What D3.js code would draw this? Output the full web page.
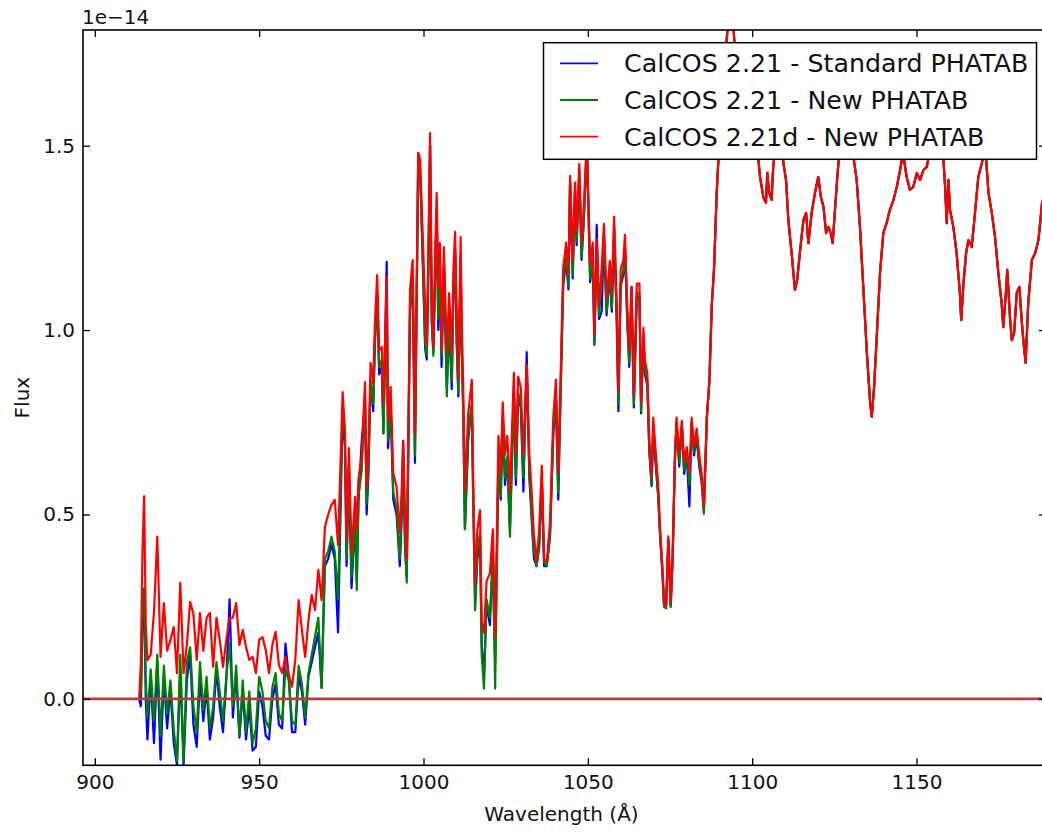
<!DOCTYPE html>
<html><head><meta charset="utf-8">
<script src="https://cdn.jsdelivr.net/npm/d3@7"></script>
<style>
body{margin:0;background:#fff}
svg{display:block}
text{font-family:"DejaVu Sans",sans-serif;fill:#111}
</style>
</head><body>
<svg id="chart" width="1042" height="832"></svg>
<script>
// ---------------- DATA (flux in units of 1e-14) ----------------
// wavelengths where the three reductions differ
const waveHead = [
  913.5,914,914.5,915,915.5,916,917,918,919,920,
  921,922,923,924,925,926,927,928,929,930,
  931,932,933,934,935,936,937,938,939,940,
  941,942,943,944,945,946,947,948,949,950,
  951,952,953,954,955,956,957,958,959,960,
  961,962,963,964,965,966,967,968,969,970,
  971,972,973,974,
  975.4,976.1,976.6,977.3,978.1,979.2,979.7,980.2,981.2,982.2,
  982.7,983.2,983.9,984.7,985.2,985.9,986.5,987.3,987.8,988.8,
  989.2,990.0,990.8,991.8,992.8,993.4,993.8,994.4,994.9,995.4,
  995.9,996.7,997.4,997.9,998.4,999.0,999.6,1000.5,1001.0,1001.5,
  1002.0,1002.5,1003.0,1003.5,1004.0,1004.5,1005.0,1005.5,1006.2,1007.1,
  1007.8,1008.6,1009.1,1009.6,1010.1,1010.6,
  1011.3,1011.6,1012.1,1012.6,1013.6,1014.7,1015.1,1015.7,1016.4,1017.2,
  1017.7,1018.4,1019.2,1020.2,1021.1,1021.8,1022.8,1023.5,1024.1,1024.8,
  1025.5,1026.3,1027.5,1028.1,1028.8,1029.6,1030.4,1031.4,1032.2,1032.9,
  1033.6,1034.4,1035.2,1036.0,1036.7,1037.5,1038.5,1039.5,1040.3,1041.0,
  1041.7,1042.5,1043.4,1044.1,1044.6,1045.4,1046.1,1046.6,1047.4,1048.1,
  1048.8,1049.7,1050.7,1051.5,1052.0,1052.7,1053.4,1054.2,1054.9,1055.7,
  1056.7,1057.3,1058.0,1058.8,1059.3,1060.0,1060.8,1061.3,1062.0,1062.6,
  1063.3,1064.0,1064.9,1065.7,1066.2,1066.9,1067.4,1068.1,1068.7,1069.4,
  1069.9,1070.7,1071.4,1072.0,1072.7,1073.2,1073.8,1074.5,1075.2,1075.8,
  1076.5,1077.0,1077.8,1078.6,1079.3,1080.1,1080.9,1081.6,1082.3,1083.1,
  1083.9,1084.6,1085.3,1086.2
];
// CalCOS 2.21 - Standard PHATAB
const fluxStdHead = [
  0,-.02,.20,.28,0,-.11,.06,-.12,.10,-.165,
  .06,-.08,.03,-.12,-.18,.08,-.18,.05,.12,-.07,
  -.13,.06,-.06,.03,-.11,-.05,.08,-.02,-.09,.05,
  .27,-.05,.07,-.105,.02,-.11,-.02,-.14,-.13,.02,
  -.02,-.10,-.11,0,.04,-.07,-.08,.15,.06,-.09,
  -.09,.06,.02,-.07,.06,.10,.14,.18,.03,.36,
  .38,.42,.38,.18,
  .78,.68,.36,.62,.30,.48,.32,.53,.70,.80,
  .50,.60,.86,.78,.96,1.10,.88,.90,.72,1.185,
  .68,.79,.54,.50,.36,.50,.70,.40,.33,.68,
  1.05,1.14,.64,1.06,1.48,1.42,1.24,.95,.92,1.17,
  1.50,1.02,.94,1.13,1.32,1.00,1.18,.90,1.17,.84,
  1.02,.84,1.10,1.20,.96,.82,
  1.19,.96,.77,.46,.70,.80,.56,.26,.38,.44,
  .15,.06,.26,.20,.38,.10,.64,.54,.75,.58,
  .65,.46,.83,.58,.82,.79,.562,.94,.60,.49,
  .38,.36,.41,.59,.36,.36,.44,.72,.81,.54,
  .82,1.12,1.19,1.11,1.40,1.14,1.38,1.23,1.43,1.19,
  1.30,1.50,1.13,1.19,.96,1.285,1.03,1.05,1.25,1.04,
  1.15,1.05,1.27,1.02,.78,1.12,1.15,1.22,1.02,.90,
  1.117,.79,1.09,1.09,.774,.97,.88,.85,.67,.577,
  .73,.63,.55,.44,.34,.25,.25,.43,.25,.38,
  .65,.75,.63,.74,.61,.66,.522,.75,.66,.71,
  .63,.59,.51,.76
];
// CalCOS 2.21 - New PHATAB
const fluxNewHead = [
  0,.02,.25,.30,.05,-.05,.08,-.06,.12,-.10,
  .09,-.04,.05,-.08,-.17,.12,-.17,.10,.14,-.02,
  -.09,.10,-.03,.06,-.08,-.02,.10,.02,-.06,.06,
  .15,-.02,.09,-.10,.05,-.09,.02,-.12,-.08,.06,
  .02,-.06,-.08,.03,.07,-.04,-.06,.08,.05,-.06,
  -.07,.09,.04,-.05,.07,.12,.17,.22,.03,.38,
  .40,.44,.40,.27,
  .80,.70,.38,.64,.33,.50,.295,.55,.62,.82,
  .53,.62,.86,.80,.97,1.10,.90,.92,.72,1.10,
  .70,.80,.56,.52,.38,.52,.66,.42,.315,.70,
  1.06,1.15,.66,1.07,1.45,1.42,1.25,.97,.93,1.18,
  1.50,1.04,.93,1.14,1.33,1.03,1.19,.93,1.18,.82,
  1.04,.86,1.12,1.22,.98,.83,
  1.20,.97,.78,.46,.72,.80,.55,.24,.40,.45,
  .12,.028,.27,.22,.40,.028,.66,.55,.76,.60,
  .66,.44,.84,.60,.83,.80,.60,.90,.62,.50,
  .40,.36,.42,.60,.37,.36,.45,.73,.82,.56,
  .83,1.13,1.20,1.12,1.40,1.15,1.38,1.24,1.43,1.20,
  1.31,1.50,1.14,1.20,.965,1.22,1.04,1.13,1.26,1.05,
  1.16,1.06,1.28,1.03,.80,1.13,1.16,1.23,1.03,.91,
  1.10,.80,1.10,1.10,.78,.98,.89,.86,.68,.58,
  .74,.64,.552,.44,.34,.25,.245,.43,.25,.38,
  .65,.75,.64,.74,.62,.67,.58,.75,.67,.72,
  .64,.60,.502,.76
];
// CalCOS 2.21d - New PHATAB
const fluxNewDHead = [
  0,.10,.40,.55,.20,.105,.12,.235,.44,.114,
  .26,.13,.16,.195,.07,.315,.07,.146,.263,.23,
  .106,.233,.13,.22,.233,.087,.22,.16,.087,.16,
  .22,.22,.26,.146,.187,.14,.106,.114,.07,.16,
  .168,.133,.07,.146,.182,.092,.07,.114,.065,.033,
  .106,.268,.187,.114,.214,.282,.241,.35,.268,.466,
  .50,.526,.54,.417,
  .832,.729,.431,.680,.396,.548,.458,.594,.660,.859,
  .575,.667,.911,.857,1.014,1.149,.946,.954,.800,1.144,
  .756,.846,.613,.575,.450,.575,.700,.485,.377,.737,
  1.109,1.190,.721,1.117,1.480,1.461,1.300,1.063,.96,1.217,
  1.534,1.090,.954,1.190,1.372,1.117,1.236,.946,1.225,.938,
  1.100,.938,1.163,1.266,1.063,.865,
  1.252,1.047,.835,.562,.774,.865,.603,.310,.460,.512,
  .209,.179,.320,.340,.460,.169,.713,.613,.804,.663,
  .713,.562,.884,.663,.874,.844,.663,.905,.663,.562,
  .442,.371,.460,.632,.380,.370,.480,.765,.865,.613,
  .865,1.167,1.237,1.147,1.418,1.188,1.400,1.268,1.450,1.237,
  1.338,1.520,1.177,1.237,.985,1.247,1.066,1.167,1.288,1.086,
  1.188,1.096,1.308,1.066,.834,1.167,1.188,1.258,1.066,.945,
  1.117,.824,1.126,1.126,.804,1.006,.915,.884,.703,.603,
  .763,.663,.582,.461,.360,.260,.250,.441,.260,.390,
  .663,.763,.663,.754,.643,.683,.613,.763,.683,.733,
  .663,.613,.522,.763
];
// long-wavelength part where all three reductions coincide
const waveTail = [
  1087.0,1087.7,1088.4,1089.2,1090.0,1090.8,1091.7,1093.0,1094.2,1095.1,
  1096.9,1098.7,1100.6,1101.9,1102.4,1103.4,1104.2,1104.6,1105.2,1105.9,
  1106.4,1107.3,1108.5,1109.5,1110.3,1111.0,1112.0,1113.0,1113.7,1114.6,
  1115.6,1116.4,1117.1,1118.1,1119.1,1120.1,1120.9,1121.7,1122.5,1123.2,
  1123.9,1124.5,1125.2,1125.9,1126.7,1128.6,1130.8,1131.8,1132.8,1133.8,
  1134.9,1135.9,1136.4,1137.1,1137.9,1138.9,1139.9,1140.9,1141.9,1143.0,
  1144.0,1145.0,1145.9,1147.0,1148.0,1149.0,1150.1,1151.1,1152.1,1153.1,
  1154.4,1156.3,1158.2,1158.7,1159.2,1159.7,1160.2,1161.2,1162.2,1163.2,
  1163.6,1164.3,1165.1,1165.8,1166.8,1167.8,1168.8,1169.9,1170.9,1171.9,
  1172.9,1173.9,1174.9,1175.9,1176.4,1177.2,1177.6,1178.5,1179.0,1179.7,
  1180.5,1181.3,1182.0,1182.5,1183.2,1184.0,1185.1,1186.1,1187.1,1188.2,
  1189.4
];
const fluxTail = [
  .865,1.066,1.167,1.370,1.510,1.62,1.73,1.87,1.84,1.70,
  1.62,1.58,1.52,1.461,1.415,1.360,1.345,1.426,1.372,1.353,
  1.442,1.52,1.55,1.453,1.407,1.299,1.209,1.109,1.136,1.217,
  1.299,1.318,1.236,1.318,1.372,1.415,1.361,1.334,1.263,1.280,
  1.263,1.236,1.326,1.415,1.50,1.56,1.470,1.407,1.280,1.117,
  .938,.802,.765,.846,.981,1.155,1.263,1.290,1.326,1.353,
  1.388,1.434,1.48,1.415,1.380,1.388,1.426,1.407,1.434,1.442,
  1.50,1.55,1.461,1.388,1.290,1.407,1.326,1.280,1.209,1.101,
  1.027,1.128,1.209,1.244,1.225,1.318,1.415,1.453,1.50,1.372,
  1.318,1.252,1.155,1.074,1.008,1.101,1.163,1.027,.973,.992,
  1.101,1.117,1.027,.973,.911,1.074,1.190,1.209,1.244,1.345,
  1.380
];
const seriesNames = ["CalCOS 2.21 - Standard PHATAB", "CalCOS 2.21 - New PHATAB", "CalCOS 2.21d - New PHATAB"];
const xTicks = [900, 950, 1000, 1050, 1100, 1150];
const yTicks = [0.0, 0.5, 1.0, 1.5];
const yOffsetLabel = "1e\u221214";
const xLabel = "Wavelength (\u00c5)";
const yLabel = "Flux";

// ---------------- LAYOUT ----------------
const plot = {left: 83, right: 1046, top: 30, bottom: 765.3};
const colors = ["#0000ff", "#008000", "#ff0000"];
const svg = d3.select("#chart");

const x = d3.scaleLinear().domain([896.4, 1189.4]).range([plot.left, plot.right]);
const y = d3.scaleLinear().domain([-0.18, 1.8136]).range([plot.bottom, plot.top]);

const wavelength = waveHead.concat(waveTail);
const heads = [fluxStdHead, fluxNewHead, fluxNewDHead];
const series = heads.map((h, i) => {
  const flux = h.concat(fluxTail);
  const n = Math.min(flux.length, wavelength.length);
  return {name: seriesNames[i], color: colors[i],
          points: d3.range(n).map(k => [wavelength[k], flux[k]])};
});

svg.append("defs").append("clipPath").attr("id", "plotclip")
  .append("rect").attr("x", plot.left).attr("y", plot.top)
  .attr("width", plot.right - plot.left).attr("height", plot.bottom - plot.top);

const line = d3.line().x(d => x(d[0])).y(d => y(d[1]));
const g = svg.append("g").attr("clip-path", "url(#plotclip)");
g.selectAll("path.series").data(series).join("path")
  .attr("class", "series")
  .attr("d", d => line(d.points))
  .attr("fill", "none")
  .attr("stroke", d => d.color)
  .attr("stroke-width", 2.2)
  .attr("stroke-linejoin", "round");

// zero reference line
g.append("line")
  .attr("x1", plot.left).attr("x2", plot.right)
  .attr("y1", y(0)).attr("y2", y(0))
  .attr("stroke", "#b83a3a").attr("stroke-width", 2.8);

// ---------------- AXES ----------------
const tickLen = 7;
const fmt = d3.format(".1f");
function styleAxis(sel) {
  sel.select(".domain").remove();
  sel.selectAll(".tick line").attr("stroke", "#000").attr("stroke-width", 1.3);
  sel.selectAll(".tick text").attr("font-size", 20).attr("fill", "#111")
     .attr("font-family", "DejaVu Sans, sans-serif");
}
svg.append("g").attr("transform", `translate(0,${plot.bottom})`)
  .call(d3.axisBottom(x).tickValues(xTicks).tickSize(-tickLen).tickPadding(10).tickFormat(d3.format("d")))
  .call(styleAxis);
svg.append("g").attr("transform", `translate(0,${plot.top})`)
  .call(d3.axisTop(x).tickValues(xTicks).tickSize(-tickLen).tickFormat(""))
  .call(styleAxis);
svg.append("g").attr("transform", `translate(${plot.left},0)`)
  .call(d3.axisLeft(y).tickValues(yTicks).tickSize(-tickLen).tickPadding(8).tickFormat(fmt))
  .call(styleAxis);
svg.append("g").attr("transform", `translate(${plot.right},0)`)
  .call(d3.axisRight(y).tickValues(yTicks).tickSize(-tickLen).tickFormat(""))
  .call(styleAxis);

// spines
svg.append("rect")
  .attr("x", plot.left).attr("y", plot.top)
  .attr("width", plot.right - plot.left).attr("height", plot.bottom - plot.top)
  .attr("fill", "none").attr("stroke", "#000").attr("stroke-width", 1.6);

// offset text and labels
svg.append("text").attr("x", 82).attr("y", 24).attr("font-size", 20).text(yOffsetLabel);
svg.append("text").attr("x", (plot.left + plot.right) / 2 - 3).attr("y", 821)
  .attr("text-anchor", "middle").attr("font-size", 20).text(xLabel);
svg.append("text").attr("transform", `translate(29,${(plot.top + plot.bottom) / 2}) rotate(-90)`)
  .attr("text-anchor", "middle").attr("font-size", 20).text(yLabel);

// ---------------- LEGEND ----------------
const lg = svg.append("g").attr("transform", "translate(543.5,42.7)");
lg.append("rect").attr("width", 493).attr("height", 116.6)
  .attr("fill", "#fff").attr("stroke", "#000").attr("stroke-width", 1.5);
const rowY = [20.6, 57.3, 94];
series.forEach((s, i) => {
  lg.append("line").attr("x1", 16.5).attr("x2", 54.5)
    .attr("y1", rowY[i]).attr("y2", rowY[i])
    .attr("stroke", s.color).attr("stroke-width", 1.8);
  lg.append("text").attr("x", 80.5).attr("y", rowY[i] + 9)
    .attr("font-size", 25.3).text(s.name);
});
</script>
</body></html>
